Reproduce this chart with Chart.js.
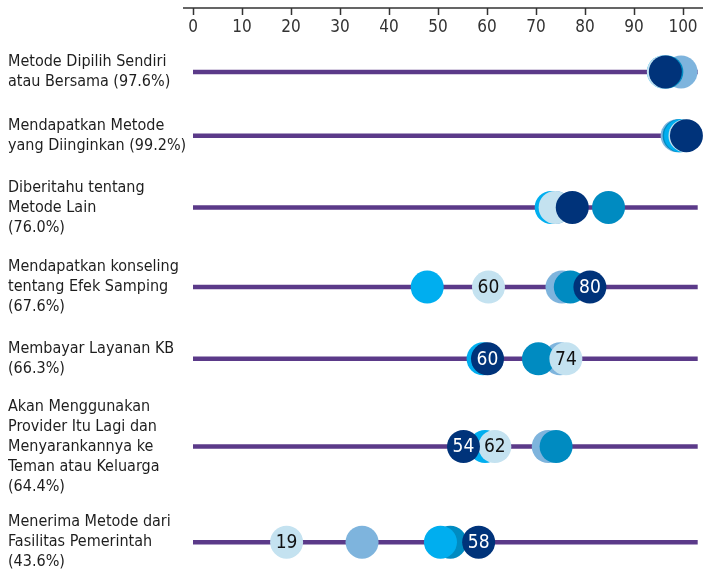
<!DOCTYPE html>
<html>
<head>
<meta charset="utf-8">
<script src="https://cdn.jsdelivr.net/npm/chart.js@4.4.1/dist/chart.umd.min.js"></script>
<style>
  html, body { margin: 0; padding: 0; background: #fff; overflow: hidden; }
  #wrap { width: 703px; height: 582px; position: relative; }
</style>
</head>
<body>
<div id="wrap"><canvas id="c"></canvas></div>
<script>
// categories (row labels, top to bottom)
var categories = [
  ["Metode Dipilih Sendiri", "atau Bersama (97.6%)"],
  ["Mendapatkan Metode", "yang Diinginkan (99.2%)"],
  ["Diberitahu tentang", "Metode Lain", "(76.0%)"],
  ["Mendapatkan konseling", "tentang Efek Samping", "(67.6%)"],
  ["Membayar Layanan KB", "(66.3%)"],
  ["Akan Menggunakan", "Provider Itu Lagi dan", "Menyarankannya ke", "Teman atau Keluarga", "(64.4%)"],
  ["Menerima Metode dari", "Fasilitas Pemerintah", "(43.6%)"]
];

// series values (percent), one per row
var navyValues  = [96.4, 100.7, 77.4, 81.0, 60.1, 55.2, 58.3];
var tealValues  = [96.7, 99.2, 84.8, 77.0, 70.5, 74.1, 52.5];
var lightValues = [99.6, 98.8, 74.0, 75.3, 74.9, 72.5, 34.5];
var cyanValues  = [96.0, 99.5, 73.1, 47.8, 59.2, 59.6, 50.5];
var paleValues  = [96.0, 100.4, 73.9, 60.3, 76.1, 61.6, 19.1];

// printed labels inside some dots
var navyLabels = [null, null, null, "80", "60", "54", "58"];
var paleLabels = [null, null, null, "60", "74", "62", "19"];

var xTicks = [0, 10, 20, 30, 40, 50, 60, 70, 80, 90, 100];
var lineEnd = 103;

var FONT = '"Liberation Sans Narrow", "DejaVu Sans Condensed", "Roboto Condensed", sans-serif';
var C = {
  navy: "#00337A", teal: "#008BC1", light: "#7EB4DD",
  cyan: "#00AEEF", pale: "#C4E2F0", purple: "#5B3A89"
};

// each row takes as much height as its label needs, plus a gap (in label lines)
var GAP = 2;
var rowPos = [], acc = 0;
categories.forEach(function(c) {
  var h = c.length + GAP;
  rowPos.push(acc + h / 2);
  acc += h;
});
var rowTotal = acc;

function pts(values) {
  return values.map(function(v, i) { return { x: v, y: rowPos[i] }; });
}

function dots(values, color, order, labels) {
  return {
    type: "scatter", data: pts(values), order: order, clip: false,
    pointRadius: 16.5, pointHoverRadius: 16.5, pointBorderWidth: 0,
    backgroundColor: color, borderColor: color, dotLabels: labels || null
  };
}

var lineSets = rowPos.map(function(p) {
  return {
    type: "line", data: [{ x: 0, y: p }, { x: lineEnd, y: p }], order: 20, clip: false,
    borderColor: C.purple, borderWidth: 4.5, pointRadius: 0, borderCapStyle: "butt"
  };
});

// axis line with ticks above the labels
var topAxis = {
  id: "topAxis",
  afterDraw: function(chart) {
    var ctx = chart.ctx, xs = chart.scales.x;
    ctx.save();
    ctx.strokeStyle = "#333";
    ctx.lineWidth = 1.5;
    ctx.beginPath();
    ctx.moveTo(183, 8);
    ctx.lineTo(chart.width, 8);
    xTicks.forEach(function(t) {
      var px = Math.round(xs.getPixelForValue(t)) + 0.5;
      ctx.moveTo(px, 8);
      ctx.lineTo(px, 15);
    });
    ctx.stroke();
    ctx.restore();
  }
};

var dotText = {
  id: "dotText",
  afterDatasetsDraw: function(chart) {
    var ctx = chart.ctx;
    ctx.save();
    ctx.font = "19px " + FONT;
    ctx.textAlign = "center";
    ctx.textBaseline = "middle";
    chart.data.datasets.forEach(function(ds, di) {
      if (!ds.dotLabels) return;
      var meta = chart.getDatasetMeta(di);
      meta.data.forEach(function(el, i) {
        var t = ds.dotLabels[i];
        if (!t) return;
        ctx.fillStyle = ds.backgroundColor === C.navy ? "#fff" : "#111";
        ctx.fillText(t, el.x, el.y + 1);
      });
    });
    ctx.restore();
  }
};

new Chart(document.getElementById("c"), {
  type: "scatter",
  data: {
    datasets: lineSets.concat([
      dots(lightValues, C.light, 5),
      dots(tealValues, C.teal, 4),
      dots(cyanValues, C.cyan, 3),
      dots(paleValues, C.pale, 2, paleLabels),
      dots(navyValues, C.navy, 1, navyLabels)
    ])
  },
  options: {
    responsive: true,
    maintainAspectRatio: false,
    animation: false,
    events: [],
    layout: { autoPadding: false, padding: { left: 8, right: 20, top: 0, bottom: 0 } },
    plugins: { legend: { display: false }, tooltip: { enabled: false } },
    scales: {
      x: {
        type: "linear", position: "top", min: 0, max: 100,
        afterBuildTicks: function(s) { s.ticks = xTicks.map(function(v) { return { value: v }; }); },
        afterFit: function(s) { s.height = 40; s.paddingLeft = 0; s.paddingRight = 0; },
        grid: { display: false, drawTicks: false },
        border: { display: false },
        ticks: { padding: 2, color: "#333", autoSkip: false, maxRotation: 0, font: { family: FONT, size: 17 } }
      },
      y: {
        type: "linear", reverse: true, min: 0, max: rowTotal,
        afterBuildTicks: function(s) { s.ticks = rowPos.map(function(v) { return { value: v }; }); },
        afterFit: function(s) { s.width = 185; s.paddingTop = 0; s.paddingBottom = 0; },
        grid: { display: false, drawTicks: false },
        border: { display: false },
        ticks: {
          crossAlign: "far", padding: 0, color: "#1e1e1e", autoSkip: false,
          font: { family: FONT, size: 16, lineHeight: 1.25 },
          callback: function(v, i) { return categories[i]; }
        }
      }
    }
  },
  plugins: [topAxis, dotText]
});
</script>
</body>
</html>
